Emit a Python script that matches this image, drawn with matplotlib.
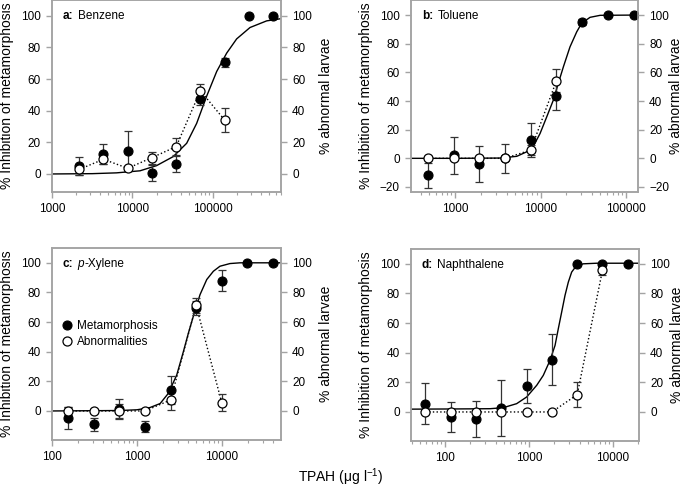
import matplotlib
matplotlib.use("Agg")
import matplotlib.pyplot as plt
from matplotlib.offsetbox import AnchoredOffsetbox, HPacker, TextArea
from matplotlib.ticker import FixedLocator, FuncFormatter, LogLocator, NullFormatter

plt.rcParams["font.family"] = ["Liberation Sans", "DejaVu Sans"]
plt.rcParams["mathtext.fontset"] = "custom"
plt.rcParams["mathtext.rm"] = "Liberation Sans"

# --- a: Benzene ---
conc_a = [2180, 4360, 8720, 17400, 34900, 69800, 139500, 279000, 558000]
metam_a = [5.3, 12.6, 14.7, 0.8, 6.1, 47.4, 70.5, 100, 100]
metam_err_a = [5.7, 6.3, 12.7, 5.0, 5.0, 4.0, 3.0, 0, 0]
abn_a = [2.9, 9.3, 3.6, 10.3, 17.3, 52.6, 34.1]
abn_err_a = [3.5, 3.0, 1.0, 3.7, 5.5, 4.2, 7.8]
curve_x_a = [1000, 3160, 6310, 12400, 19950, 32100, 47100, 62700, 83200,
             111200, 147900, 196800, 288400, 464500, 700000]
curve_y_a = [0, 0.2, 0.7, 2.0, 5.3, 11, 19.4, 32, 49, 64.8, 76.4, 85.4,
             92.6, 96.8, 98.2]

# --- b: Toluene ---
conc_b = [480, 960, 1920, 3840, 7680, 15360, 30700, 61400, 122900]
metam_b = [-11.9, 2.1, -4.2, 0.0, 12.8, 43.7, 94.9, 100, 100]
metam_err_b = [8.5, 12.7, 12.5, 10.0, 11.6, 10.0, 2.0, 0, 0]
abn_b = [0, 0, 0, 0, 5.8, 54.2]
abn_err_b = [0, 0, 0, 0, 3.5, 8.0]
curve_x_b = [305, 1000, 3360, 5270, 7530, 8240, 9860, 11800, 14100, 16100,
             18500, 22100, 26500, 30200, 37900, 49700, 138000]
curve_y_b = [0, 0, 0.2, 1.4, 5.6, 8.5, 17.3, 28.9, 40.6, 52.2, 63.9, 77.8,
             88.3, 94.2, 98.4, 99.8, 100]

# --- c: p-Xylene ---
conc_c = [155, 310, 620, 1240, 2480, 4960, 9920, 19840, 39680]
metam_c = [-4.5, -9.0, 1.4, -10.6, 14.2, 69.5, 88.0, 100, 100]
metam_err_c = [7.5, 4.5, 7.0, 3.5, 9.5, 5.0, 7.0, 0, 0]
abn_c = [0, 0, 0, 0, 7.4, 71.3, 5.6]
abn_err_c = [2.5, 0, 5.0, 0, 7.0, 5.0, 5.6]
curve_x_c = [100, 630, 1000, 1420, 1870, 2330, 2930, 3510, 4020, 4590, 5510,
             6610, 7910, 9460, 12400, 16300, 49400]
curve_y_c = [0, 0.3, 0.8, 2.3, 5.0, 11.8, 24.2, 40, 52.5, 63.8, 78.5, 88.7,
             94.3, 97.7, 99.5, 100, 100]

# --- d: Naphthalene ---
conc_d = [58.6, 117, 234, 469, 938, 1875, 3750, 7500, 15000]
metam_d = [5.6, -3.6, -4.7, 2.7, 17.3, 35.4, 100, 100, 100]
metam_err_d = [14.0, 10.0, 12.0, 19.0, 11.5, 17.0, 0, 0, 0]
abn_d = [0, 0, 0, 0, 0, 0, 11.7, 95.7]
abn_err_d = [0, 0, 0, 0, 0, 0, 8.5, 3.0]
curve_x_d = [39.4, 100, 200, 344, 494, 713, 938, 1236, 1480, 1778, 2042, 2234,
             2449, 2685, 2938, 3221, 3631, 4426, 6400, 20400]
curve_y_d = [1.9, 2.0, 2.1, 2.2, 2.9, 5.6, 10.1, 18, 24.7, 34.8, 44.9, 56.2,
             67.4, 78.7, 87.6, 94.4, 98.4, 100, 100.4, 100.4]

SPINE = "#a3a3a3"
W, H = 685, 494

fig = plt.figure(figsize=(W / 100, H / 100), dpi=100)


def rect(l, t, r, b):
    return [l / W, 1 - b / H, (r - l) / W, (b - t) / H]


def panel_title(ax, letter, parts):
    # bold letter, then the name (pieces may be italic) packed tight
    head = TextArea(letter, textprops=dict(fontsize=8.5, fontweight="bold"))
    rest = HPacker(children=[TextArea(t, textprops=dict(fontsize=8.5, **p))
                             for t, p in parts],
                   align="baseline", pad=0, sep=0)
    pack = HPacker(children=[head, rest], align="baseline", pad=0, sep=3)
    anch = AnchoredOffsetbox(loc="center left", child=pack, pad=0,
                             borderpad=0, frameon=False,
                             bbox_to_anchor=(0.048, 0.917),
                             bbox_transform=ax.transAxes)
    ax.add_artist(anch)


def draw_panel(box, letter, name, conc, metam, metam_err, abn, abn_err, cx, cy,
               xlim, ylim, xticks, yticks, right_pad=5):
    ax = fig.add_axes(rect(*box))
    ax.set_xscale("log")
    ax.plot(cx, cy, "-", color="black", lw=1.0, zorder=2)
    n = len(abn)
    ax.plot(conc[:n], abn, ":", color="black", lw=1.0, zorder=2)
    ax.errorbar(conc, metam, yerr=metam_err, fmt="none", ecolor="#333333",
                elinewidth=0.9, capsize=2.6, capthick=0.9, zorder=3)
    ax.errorbar(conc[:n], abn, yerr=abn_err, fmt="none", ecolor="#333333",
                elinewidth=0.9, capsize=2.6, capthick=0.9, zorder=3)
    h1, = ax.plot(conc, metam, "o", ms=6.5, mfc="black", mec="black",
                  mew=0.8, zorder=4, label="Metamorphosis")
    h2, = ax.plot(conc[:n], abn, "o", ms=6.5, mfc="white", mec="black",
                  mew=0.9, zorder=5, label="Abnormalities")
    ax.set_xlim(*xlim)
    ax.set_ylim(*ylim)
    ax.xaxis.set_major_locator(FixedLocator(xticks))
    ax.xaxis.set_major_formatter(FuncFormatter(lambda v, p: f"{v:.0f}"))
    ax.xaxis.set_minor_locator(LogLocator(base=10, subs=range(2, 10)))
    ax.xaxis.set_minor_formatter(NullFormatter())
    ax.set_yticks(yticks)
    ax.set_ylabel("% Inhibition of metamorphosis", fontsize=10, labelpad=5)

    ax2 = ax.twinx()
    ax2.set_ylim(*ylim)
    ax2.set_yticks(yticks)
    ax2.set_ylabel("% abnormal larvae", fontsize=10, labelpad=right_pad)

    for a in (ax, ax2):
        for s in a.spines.values():
            s.set_color(SPINE)
            s.set_linewidth(1.1)
        a.tick_params(which="both", direction="out", color=SPINE,
                      labelsize=8.5, labelcolor="black")
        a.tick_params(which="major", length=4.5, width=1.0)
        a.tick_params(which="minor", length=2.5, width=0.8)
    ax.tick_params(axis="x", which="both", top=False)

    panel_title(ax, letter, name)
    return ax, h1, h2


plain = dict()
ital = dict(fontstyle="italic")

draw_panel((52, 0, 281, 192), "a:", [("Benzene", plain)],
           conc_a, metam_a, metam_err_a, abn_a, abn_err_a, curve_x_a, curve_y_a,
           (1000, 7e5), (-11.4, 110), [1000, 10000, 100000],
           [0, 20, 40, 60, 80, 100])
draw_panel((411, 0, 638, 192), "b:", [("Toluene", plain)],
           conc_b, metam_b, metam_err_b, abn_b, abn_err_b, curve_x_b, curve_y_b,
           (305, 1.38e5), (-23.5, 110.5), [1000, 10000, 100000],
           [-20, 0, 20, 40, 60, 80, 100], right_pad=0)
ax_c, h_fill, h_open = draw_panel(
    (52, 248, 281, 440), "c:", [("p", ital), ("-Xylene", plain)],
    conc_c, metam_c, metam_err_c, abn_c, abn_err_c, curve_x_c, curve_y_c,
    (100, 4.94e4), (-19.6, 110), [100, 1000, 10000], [0, 20, 40, 60, 80, 100])
draw_panel((411, 249, 639, 441), "d:", [("Naphthalene", plain)],
           conc_d, metam_d, metam_err_d, abn_d, abn_err_d, curve_x_d, curve_y_d,
           (39.4, 2.04e4), (-19.6, 110), [100, 1000, 10000],
           [0, 20, 40, 60, 80, 100], right_pad=0)

ax_c.legend(handles=[h_fill, h_open], loc="upper left",
            bbox_to_anchor=(0.045, 0.625), frameon=False, fontsize=8.5,
            handlelength=0.8, handletextpad=0.45, borderpad=0,
            borderaxespad=0, labelspacing=0.35)

fig.text(341 / W, 1 - 477 / H, r"TPAH (μg l$^{-1}$)", fontsize=10,
         ha="center", va="center")

fig.savefig("out.png", dpi=100)
